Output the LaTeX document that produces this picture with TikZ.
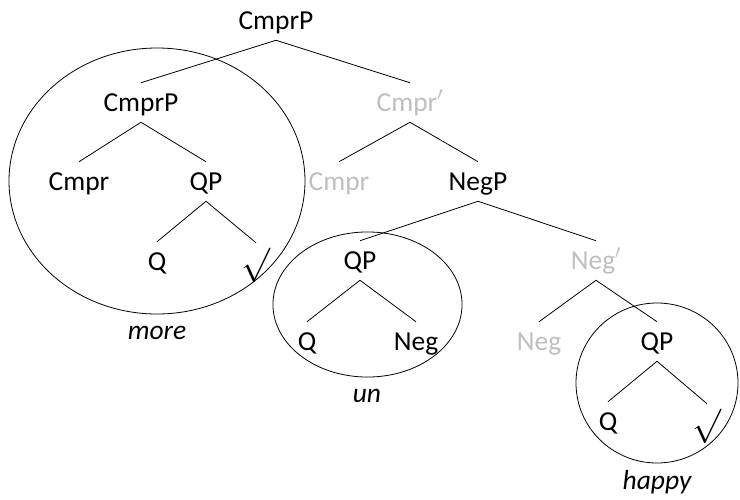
\documentclass[tikz,border=0pt]{standalone}
\usepackage{fontspec}
\setmainfont{Carlito}
\definecolor{trace}{RGB}{191,191,191}
\tikzset{
  lbl/.style={anchor=base, inner sep=0pt, text height=21pt, text depth=8.25pt},
  silent/.style={lbl, text=trace},
  word/.style={anchor=base, inner sep=0pt, font=\fontsize{20.6}{24}\selectfont\itshape},
  branch/.style={line width=0.6pt},
  span/.style={line width=0.6pt}
}
\newcommand{\rootsym}{\raisebox{-2pt}{\scalebox{1.25}{$\surd$}}}
\begin{document}
\begin{tikzpicture}[x=0.75pt, y=-0.75pt, font=\fontsize{20.6}{24}\selectfont]
\useasboundingbox (0,0) rectangle (740,500);

% tree labels
\node[lbl] (top) at (276,29) {CmprP};
\node[lbl] (cmprp) at (141,111) {CmprP};
\node[silent] (cmprbar) at (410,111) {Cmpr$'$};
\node[lbl] (cmpr) at (79,190) {Cmpr};
\node[lbl] (qpa) at (206,190) {QP};
\node[silent] (cmprg) at (339,190) {Cmpr};
\node[lbl] (negp) at (478,190) {NegP};
\node[lbl] (qa) at (157,270) {Q};
\node[lbl] (roota) at (256,271) {\rootsym};
\node[lbl] (qpb) at (360,269) {QP};
\node[silent] (negbar) at (596,269) {Neg$'$};
\node[lbl] (qb) at (307,350) {Q};
\node[lbl] (neg) at (416,350) {Neg};
\node[silent] (negg) at (539,350) {Neg};
\node[lbl] (qpc) at (657,350) {QP};
\node[lbl] (qc) at (608,430) {Q};
\node[lbl] (rootb) at (707,432) {\rootsym};

\foreach \mother/\daughter in {top/cmprp, top/cmprbar, cmprp/cmpr, cmprp/qpa,
    qpa/qa, qpa/roota, cmprbar/cmprg, cmprbar/negp, negp/qpb, negp/negbar,
    qpb/qb, qpb/neg, negbar/negg, negbar/qpc, qpc/qc, qpc/rootb}
  \draw[branch] (\mother.south) -- (\daughter.north);

% spell-out domains
\draw[span] (157,181) ellipse [x radius=111pt, y radius=99.75pt];
\draw[span] (367.5,304.5) ellipse [x radius=70.9pt, y radius=54.4pt];
\draw[span] (657,383) ellipse [x radius=60.75pt, y radius=60pt];

\node[word] (more) at (157,339) {more};
\node[word] (un) at (367,402) {un};
\node[word] (happy) at (657,489) {happy};
\end{tikzpicture}
\end{document}
